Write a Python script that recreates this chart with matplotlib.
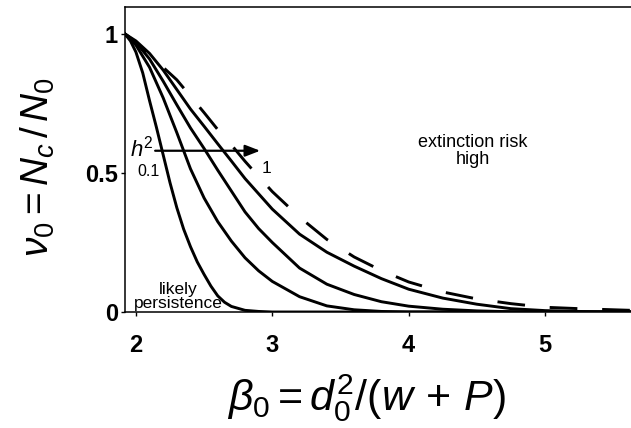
import matplotlib
matplotlib.use('Agg')
import matplotlib.pyplot as plt

plt.rcParams['font.family'] = ['Liberation Sans', 'DejaVu Sans']
plt.rcParams['mathtext.fontset'] = 'custom'
plt.rcParams['mathtext.rm'] = 'Liberation Sans'
plt.rcParams['mathtext.it'] = 'Liberation Sans:italic'
plt.rcParams['mathtext.bf'] = 'Liberation Sans:bold'

# ---- data ----
beta0 = [1.92, 2.0, 2.1, 2.2, 2.3, 2.4, 2.5, 2.6, 2.7, 2.8, 2.9, 3.0,
         3.2, 3.4, 3.6, 3.8, 4.0, 4.25, 4.5, 4.75, 5.0, 5.25, 5.5, 5.63]

beta0_h01 = [1.92, 1.96, 2.0, 2.05, 2.1, 2.15, 2.2, 2.25, 2.3, 2.35, 2.4, 2.45,
             2.5, 2.55, 2.6, 2.65, 2.7, 2.8, 2.9, 3.0, 5.63]
nu_h01 = [1.0, 0.975, 0.935, 0.86, 0.76, 0.665, 0.565, 0.465, 0.375, 0.298, 0.235, 0.18,
          0.135, 0.093, 0.058, 0.035, 0.02, 0.006, 0.002, 0.0, 0.0]
nu_h2 = [1.0, 0.96, 0.88, 0.77, 0.645, 0.515, 0.41, 0.325, 0.255, 0.195, 0.148, 0.11,
         0.055, 0.022, 0.008, 0.002, 0, 0, 0, 0, 0, 0, 0, 0]
nu_h3 = [1.0, 0.97, 0.91, 0.83, 0.745, 0.662, 0.588, 0.51, 0.435, 0.36, 0.30, 0.25,
         0.158, 0.10, 0.063, 0.037, 0.021, 0.01, 0.004, 0.001, 0, 0, 0, 0]
nu_h4 = [1.0, 0.975, 0.93, 0.87, 0.80, 0.73, 0.668, 0.605, 0.543, 0.48, 0.425, 0.37,
         0.28, 0.215, 0.165, 0.12, 0.082, 0.05, 0.028, 0.012, 0.005, 0.002, 0, 0]
nu_h1 = [1.0, 0.97, 0.925, 0.88, 0.835, 0.776, 0.717, 0.656, 0.601, 0.542, 0.487, 0.433,
         0.341, 0.261, 0.198, 0.149, 0.108, 0.072, 0.047, 0.03, 0.017, 0.012, 0.008, 0.006]

xticks = [2, 3, 4, 5]
xticklabels = ['2', '3', '4', '5']
yticks = [0, 0.5, 1]
yticklabels = ['0', '0.5', '1']

# ---- figure ----
W, H = 631, 428
fig = plt.figure(figsize=(W / 100, H / 100), dpi=100)
ax = fig.add_axes([125 / W, (H - 312) / H, (W - 125) / W, (312 - 7) / H])

ax.plot(beta0_h01, nu_h01, color='black', lw=2.1, zorder=3)
for ys in [nu_h2, nu_h3, nu_h4]:
    ax.plot(beta0, ys, color='black', lw=2.1, zorder=3)
ax.plot(beta0, nu_h1, color='black', lw=2.1, dashes=(9.5, 8.5), zorder=3)

ax.set_xlim(1.92, 5.63)
ax.set_ylim(0, 1.097)
ax.set_xticks(xticks)
ax.set_xticklabels(xticklabels, fontsize=17, fontweight='bold')
ax.set_yticks(yticks)
ax.set_yticklabels(yticklabels, fontsize=17, fontweight='bold')
ax.tick_params(axis='x', direction='out', length=3, width=1, pad=13)
ax.tick_params(axis='y', direction='out', length=3, width=1, pad=2)
ax.spines['right'].set_visible(False)
for s in ['left', 'top', 'bottom']:
    ax.spines[s].set_linewidth(1.1)

# arrow for h^2
ax.annotate('', xy=(2.911, 0.58), xytext=(2.141, 0.58),
            arrowprops=dict(arrowstyle='-|>,head_length=0.9,head_width=0.35',
                            color='black', lw=1.6, shrinkA=0, shrinkB=0), zorder=4)
ax.text(1.955, 0.56, r'$h^2$', fontsize=16, ha='left', va='baseline')
ax.text(2.01, 0.49, '0.1', fontsize=11.5, ha='left', va='baseline')
ax.text(2.925, 0.5, '1', fontsize=12.5, ha='left', va='baseline')

ax.text(4.473, 0.579, 'extinction risk\nhigh', fontsize=13, ha='center', va='center',
        linespacing=0.95)
ax.text(2.31, 0.014, 'likely\npersistence', fontsize=12.5, ha='center', va='baseline',
        linespacing=0.95)

fig.text(366 / W, (H - 410) / H, r'$\beta_0 = d_0^2/(w\,+\,P)$', fontsize=31,
         ha='center', va='baseline')
fig.text(38 / W, 1 - 167 / H, r'$\nu_0 = N_c\,/\,N_0$', fontsize=28,
         ha='center', va='center', rotation=90)

fig.savefig('out.png', dpi=100)
